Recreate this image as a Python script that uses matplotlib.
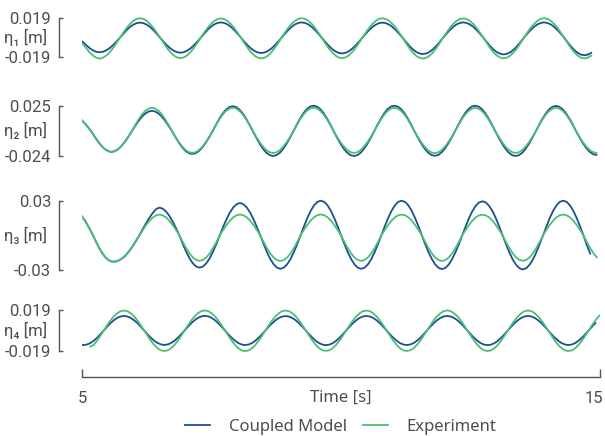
import numpy as np
import matplotlib.pyplot as plt
from matplotlib import font_manager
from matplotlib.transforms import ScaledTranslation

# sample grid of each panel: start time [s], 0.065 s step
dt = 0.065
t_start = [4.95, 4.92, 4.93, 4.90]

# panel 1
model_1 = [-0.0020, -0.0040, -0.0071, -0.0100, -0.0122, -0.0136, -0.0141, -0.0136, -0.0122, -0.0100, -0.0071, -0.0037,
           0.0000, 0.0038, 0.0074, 0.0105, 0.0128, 0.0143, 0.0148, 0.0143, 0.0128, 0.0105, 0.0074, 0.0038,
           0.0000, -0.0038, -0.0073, -0.0103, -0.0126, -0.0140, -0.0145, -0.0140, -0.0126, -0.0103, -0.0073, -0.0038,
           0.0000, 0.0039, 0.0075, 0.0106, 0.0130, 0.0145, 0.0150, 0.0145, 0.0130, 0.0106, 0.0075, 0.0039,
           0.0000, -0.0038, -0.0074, -0.0105, -0.0128, -0.0143, -0.0148, -0.0143, -0.0128, -0.0105, -0.0074, -0.0038,
           0.0000, 0.0039, 0.0075, 0.0106, 0.0130, 0.0145, 0.0150, 0.0145, 0.0130, 0.0106, 0.0075, 0.0039,
           0.0000, -0.0039, -0.0076, -0.0107, -0.0132, -0.0147, -0.0152, -0.0147, -0.0132, -0.0107, -0.0076, -0.0039,
           0.0000, 0.0038, 0.0074, 0.0105, 0.0128, 0.0143, 0.0148, 0.0143, 0.0128, 0.0105, 0.0074, 0.0038,
           0.0000, -0.0041, -0.0079, -0.0112, -0.0137, -0.0153, -0.0158, -0.0153, -0.0137, -0.0112, -0.0079, -0.0041,
           0.0000, 0.0039, 0.0075, 0.0106, 0.0130, 0.0145, 0.0150, 0.0145, 0.0130, 0.0106, 0.0075, 0.0039,
           0.0000, -0.0042, -0.0081, -0.0115, -0.0140, -0.0156, -0.0162, -0.0156, -0.0140, -0.0115, -0.0081, -0.0042,
           0.0000, 0.0039, 0.0075, 0.0106, 0.0130, 0.0145, 0.0150, 0.0145, 0.0130, 0.0106, 0.0075, 0.0039,
           0.0000, -0.0044, -0.0085, -0.0120, -0.0147, -0.0164, -0.0170, -0.0164, -0.0147]
exp_1 = [-0.0040, -0.0060, -0.0100, -0.0141, -0.0173, -0.0193, -0.0203, -0.0193, -0.0173, -0.0141, -0.0100, -0.0052,
         0.0000, 0.0049, 0.0095, 0.0134, 0.0165, 0.0184, 0.0190, 0.0184, 0.0165, 0.0134, 0.0095, 0.0049,
         0.0000, -0.0051, -0.0099, -0.0140, -0.0171, -0.0191, -0.0198, -0.0191, -0.0171, -0.0140, -0.0099, -0.0051,
         0.0000, 0.0049, 0.0094, 0.0133, 0.0163, 0.0182, 0.0188, 0.0182, 0.0163, 0.0133, 0.0094, 0.0049,
         0.0000, -0.0052, -0.0100, -0.0142, -0.0174, -0.0194, -0.0201, -0.0194, -0.0174, -0.0142, -0.0100, -0.0052,
         0.0000, 0.0049, 0.0096, 0.0135, 0.0165, 0.0185, 0.0191, 0.0185, 0.0165, 0.0135, 0.0096, 0.0049,
         0.0000, -0.0052, -0.0100, -0.0141, -0.0172, -0.0192, -0.0199, -0.0192, -0.0172, -0.0141, -0.0100, -0.0052,
         0.0000, 0.0049, 0.0095, 0.0134, 0.0165, 0.0184, 0.0190, 0.0184, 0.0165, 0.0134, 0.0095, 0.0049,
         0.0000, -0.0052, -0.0101, -0.0143, -0.0175, -0.0195, -0.0202, -0.0195, -0.0175, -0.0143, -0.0101, -0.0052,
         0.0000, 0.0049, 0.0095, 0.0134, 0.0164, 0.0183, 0.0189, 0.0183, 0.0164, 0.0134, 0.0095, 0.0049,
         0.0000, -0.0052, -0.0100, -0.0141, -0.0173, -0.0193, -0.0200, -0.0193, -0.0173, -0.0141, -0.0100, -0.0052,
         0.0000, 0.0049, 0.0096, 0.0135, 0.0165, 0.0185, 0.0191, 0.0185, 0.0165, 0.0135, 0.0096, 0.0049,
         0.0000, -0.0052, -0.0100, -0.0142, -0.0174, -0.0194, -0.0201, -0.0194, -0.0174]

# panel 2
model_2 = [0.0139, 0.0113, 0.0080, 0.0041, 0.0000,
           -0.0052, -0.0100, -0.0141, -0.0173, -0.0193, -0.0200, -0.0193, -0.0173, -0.0141, -0.0100, -0.0052, 0.0000,
           0.0052, 0.0100, 0.0141, 0.0173, 0.0193, 0.0200, 0.0193, 0.0173, 0.0141, 0.0100, 0.0052, 0.0000,
           -0.0057, -0.0110, -0.0156, -0.0191, -0.0213, -0.0220, -0.0213, -0.0191, -0.0156, -0.0110, -0.0057, 0.0000,
           0.0063, 0.0123, 0.0173, 0.0212, 0.0237, 0.0245, 0.0237, 0.0212, 0.0173, 0.0123, 0.0063, 0.0000,
           -0.0062, -0.0120, -0.0170, -0.0208, -0.0232, -0.0240, -0.0232, -0.0208, -0.0170, -0.0120, -0.0062, 0.0000,
           0.0065, 0.0125, 0.0177, 0.0217, 0.0242, 0.0250, 0.0242, 0.0217, 0.0177, 0.0125, 0.0065, 0.0000,
           -0.0062, -0.0120, -0.0170, -0.0208, -0.0232, -0.0240, -0.0232, -0.0208, -0.0170, -0.0120, -0.0062, 0.0000,
           0.0065, 0.0125, 0.0177, 0.0217, 0.0242, 0.0250, 0.0242, 0.0217, 0.0177, 0.0125, 0.0065, 0.0000,
           -0.0062, -0.0119, -0.0168, -0.0206, -0.0230, -0.0238, -0.0230, -0.0206, -0.0168, -0.0119, -0.0062, 0.0000,
           0.0065, 0.0125, 0.0177, 0.0217, 0.0242, 0.0250, 0.0242, 0.0217, 0.0177, 0.0125, 0.0065, 0.0000,
           -0.0062, -0.0120, -0.0170, -0.0208, -0.0232, -0.0240, -0.0232, -0.0208, -0.0170, -0.0120, -0.0062, 0.0000,
           0.0064, 0.0124, 0.0175, 0.0215, 0.0240, 0.0248, 0.0240, 0.0215, 0.0175, 0.0124, 0.0064, 0.0000,
           -0.0060, -0.0115, -0.0163, -0.0199, -0.0222, -0.0230]
exp_2 = [0.0139, 0.0113, 0.0080, 0.0041, 0.0000,
         -0.0052, -0.0100, -0.0141, -0.0173, -0.0193, -0.0200, -0.0193, -0.0173, -0.0141, -0.0100, -0.0052, 0.0000,
         0.0060, 0.0115, 0.0163, 0.0199, 0.0222, 0.0230, 0.0222, 0.0199, 0.0163, 0.0115, 0.0060, 0.0000,
         -0.0054, -0.0105, -0.0148, -0.0182, -0.0203, -0.0210, -0.0203, -0.0182, -0.0148, -0.0105, -0.0054, 0.0000,
         0.0060, 0.0115, 0.0163, 0.0199, 0.0222, 0.0230, 0.0222, 0.0199, 0.0163, 0.0115, 0.0060, 0.0000,
         -0.0055, -0.0106, -0.0149, -0.0183, -0.0204, -0.0211, -0.0204, -0.0183, -0.0149, -0.0106, -0.0055, 0.0000,
         0.0060, 0.0116, 0.0163, 0.0200, 0.0223, 0.0231, 0.0223, 0.0200, 0.0163, 0.0116, 0.0060, 0.0000,
         -0.0054, -0.0105, -0.0148, -0.0182, -0.0203, -0.0210, -0.0203, -0.0182, -0.0148, -0.0105, -0.0054, 0.0000,
         0.0060, 0.0115, 0.0163, 0.0199, 0.0222, 0.0230, 0.0222, 0.0199, 0.0163, 0.0115, 0.0060, 0.0000,
         -0.0055, -0.0106, -0.0150, -0.0184, -0.0205, -0.0212, -0.0205, -0.0184, -0.0150, -0.0106, -0.0055, 0.0000,
         0.0059, 0.0115, 0.0162, 0.0198, 0.0221, 0.0229, 0.0221, 0.0198, 0.0162, 0.0115, 0.0059, 0.0000,
         -0.0054, -0.0105, -0.0148, -0.0182, -0.0203, -0.0210, -0.0203, -0.0182, -0.0148, -0.0105, -0.0054, 0.0000,
         0.0060, 0.0115, 0.0163, 0.0199, 0.0222, 0.0230, 0.0222, 0.0199, 0.0163, 0.0115, 0.0060, 0.0000,
         -0.0054, -0.0105, -0.0148, -0.0182, -0.0203, -0.0210]

# panel 3
model_3 = [0.0200, 0.0165, 0.0125, 0.0075, 0.0020, -0.0040, -0.0100, -0.0150, -0.0190, -0.0215, -0.0228, -0.0227,
           -0.0218, -0.0200, -0.0175, -0.0140, -0.0100, -0.0053, -0.0005, 0.0048, 0.0100, 0.0148, 0.0190, 0.0225,
           0.0240, 0.0232, 0.0208, 0.0170, 0.0120, 0.0062, 0.0000,
           -0.0073, -0.0140, -0.0198, -0.0242, -0.0270, -0.0280, -0.0270, -0.0242, -0.0198, -0.0140, -0.0073, 0.0000,
           0.0073, 0.0140, 0.0198, 0.0242, 0.0270, 0.0280, 0.0270, 0.0242, 0.0198, 0.0140, 0.0073, 0.0000,
           -0.0075, -0.0145, -0.0205, -0.0251, -0.0280, -0.0290, -0.0280, -0.0251, -0.0205, -0.0145, -0.0075, 0.0000,
           0.0078, 0.0150, 0.0212, 0.0260, 0.0290, 0.0300, 0.0290, 0.0260, 0.0212, 0.0150, 0.0078, 0.0000,
           -0.0075, -0.0145, -0.0205, -0.0251, -0.0280, -0.0290, -0.0280, -0.0251, -0.0205, -0.0145, -0.0075, 0.0000,
           0.0078, 0.0150, 0.0212, 0.0260, 0.0290, 0.0300, 0.0290, 0.0260, 0.0212, 0.0150, 0.0078, 0.0000,
           -0.0076, -0.0146, -0.0206, -0.0253, -0.0282, -0.0292, -0.0282, -0.0253, -0.0206, -0.0146, -0.0076, 0.0000,
           0.0076, 0.0148, 0.0209, 0.0255, 0.0285, 0.0295, 0.0285, 0.0255, 0.0209, 0.0148, 0.0076, 0.0000,
           -0.0076, -0.0148, -0.0209, -0.0255, -0.0285, -0.0295, -0.0285, -0.0255, -0.0209, -0.0148, -0.0076, 0.0000,
           0.0078, 0.0150, 0.0212, 0.0260, 0.0290, 0.0300, 0.0290, 0.0260, 0.0212, 0.0150, 0.0078, 0.0000,
           -0.0082, -0.0158]
exp_3 = [0.0200, 0.0165, 0.0125, 0.0075, 0.0020, -0.0040, -0.0100, -0.0148, -0.0188, -0.0215, -0.0228, -0.0226,
         -0.0216, -0.0198, -0.0172, -0.0138, -0.0100, -0.0055, -0.0008, 0.0040, 0.0085, 0.0122, 0.0152, 0.0172,
         0.0180, 0.0174, 0.0156, 0.0127, 0.0090, 0.0047, 0.0000,
         -0.0057, -0.0110, -0.0156, -0.0191, -0.0213, -0.0220, -0.0213, -0.0191, -0.0156, -0.0110, -0.0057, 0.0000,
         0.0047, 0.0090, 0.0127, 0.0156, 0.0174, 0.0180, 0.0174, 0.0156, 0.0127, 0.0090, 0.0047, 0.0000,
         -0.0057, -0.0111, -0.0157, -0.0192, -0.0214, -0.0222, -0.0214, -0.0192, -0.0157, -0.0111, -0.0057, 0.0000,
         0.0047, 0.0090, 0.0128, 0.0157, 0.0175, 0.0181, 0.0175, 0.0157, 0.0128, 0.0090, 0.0047, 0.0000,
         -0.0057, -0.0110, -0.0156, -0.0191, -0.0213, -0.0221, -0.0213, -0.0191, -0.0156, -0.0110, -0.0057, 0.0000,
         0.0047, 0.0090, 0.0127, 0.0156, 0.0174, 0.0180, 0.0174, 0.0156, 0.0127, 0.0090, 0.0047, 0.0000,
         -0.0057, -0.0111, -0.0157, -0.0192, -0.0214, -0.0222, -0.0214, -0.0192, -0.0157, -0.0111, -0.0057, 0.0000,
         0.0046, 0.0089, 0.0126, 0.0155, 0.0173, 0.0179, 0.0173, 0.0155, 0.0126, 0.0089, 0.0046, 0.0000,
         -0.0057, -0.0110, -0.0156, -0.0191, -0.0213, -0.0220, -0.0213, -0.0191, -0.0156, -0.0110, -0.0057, 0.0000,
         0.0047, 0.0090, 0.0127, 0.0156, 0.0174, 0.0180, 0.0174, 0.0156, 0.0127, 0.0090, 0.0047, 0.0000,
         -0.0057, -0.0110, -0.0156, -0.0191]

# panel 4
model_4 = [-0.0117, -0.0130, -0.0135, -0.0130, -0.0117, -0.0095, -0.0068, -0.0035, 0.0000,
           0.0035, 0.0068, 0.0095, 0.0117, 0.0130, 0.0135, 0.0130, 0.0117, 0.0095, 0.0068, 0.0035, 0.0000,
           -0.0035, -0.0067, -0.0095, -0.0116, -0.0129, -0.0134, -0.0129, -0.0116, -0.0095, -0.0067, -0.0035, 0.0000,
           0.0035, 0.0068, 0.0096, 0.0118, 0.0131, 0.0136, 0.0131, 0.0118, 0.0096, 0.0068, 0.0035, 0.0000,
           -0.0035, -0.0068, -0.0095, -0.0117, -0.0130, -0.0135, -0.0130, -0.0117, -0.0095, -0.0068, -0.0035, 0.0000,
           0.0035, 0.0067, 0.0095, 0.0116, 0.0129, 0.0134, 0.0129, 0.0116, 0.0095, 0.0067, 0.0035, 0.0000,
           -0.0035, -0.0068, -0.0096, -0.0118, -0.0131, -0.0136, -0.0131, -0.0118, -0.0096, -0.0068, -0.0035, 0.0000,
           0.0035, 0.0068, 0.0095, 0.0117, 0.0130, 0.0135, 0.0130, 0.0117, 0.0095, 0.0068, 0.0035, 0.0000,
           -0.0035, -0.0068, -0.0095, -0.0117, -0.0130, -0.0135, -0.0130, -0.0117, -0.0095, -0.0068, -0.0035, 0.0000,
           0.0035, 0.0068, 0.0095, 0.0117, 0.0130, 0.0135, 0.0130, 0.0117, 0.0095, 0.0068, 0.0035, 0.0000,
           -0.0035, -0.0068, -0.0096, -0.0118, -0.0131, -0.0136, -0.0131, -0.0118, -0.0096, -0.0068, -0.0035, 0.0000,
           0.0035, 0.0068, 0.0095, 0.0117, 0.0130, 0.0135, 0.0130, 0.0117, 0.0095, 0.0068, 0.0035, 0.0000,
           -0.0035, -0.0068, -0.0095, -0.0117, -0.0130, -0.0135, -0.0130, -0.0117, -0.0095, -0.0068, -0.0035, 0.0000,
           0.0035, 0.0068]
exp_4 = [np.nan, np.nan, np.nan, np.nan, -0.0150, -0.0134, -0.0095, -0.0049, 0.0000,
         0.0048, 0.0093, 0.0131, 0.0160, 0.0179, 0.0185, 0.0179, 0.0160, 0.0131, 0.0093, 0.0048, 0.0000,
         -0.0049, -0.0095, -0.0134, -0.0165, -0.0184, -0.0190, -0.0184, -0.0165, -0.0134, -0.0095, -0.0049, 0.0000,
         0.0048, 0.0094, 0.0132, 0.0161, 0.0180, 0.0186, 0.0180, 0.0161, 0.0132, 0.0094, 0.0048, 0.0000,
         -0.0049, -0.0095, -0.0135, -0.0165, -0.0185, -0.0191, -0.0185, -0.0165, -0.0135, -0.0095, -0.0049, 0.0000,
         0.0048, 0.0093, 0.0131, 0.0160, 0.0179, 0.0185, 0.0179, 0.0160, 0.0131, 0.0093, 0.0048, 0.0000,
         -0.0049, -0.0095, -0.0134, -0.0164, -0.0183, -0.0189, -0.0183, -0.0164, -0.0134, -0.0095, -0.0049, 0.0000,
         0.0048, 0.0093, 0.0131, 0.0160, 0.0179, 0.0185, 0.0179, 0.0160, 0.0131, 0.0093, 0.0048, 0.0000,
         -0.0049, -0.0095, -0.0134, -0.0165, -0.0184, -0.0190, -0.0184, -0.0165, -0.0134, -0.0095, -0.0049, 0.0000,
         0.0048, 0.0094, 0.0132, 0.0161, 0.0180, 0.0186, 0.0180, 0.0161, 0.0132, 0.0094, 0.0048, 0.0000,
         -0.0049, -0.0095, -0.0134, -0.0165, -0.0184, -0.0190, -0.0184, -0.0165, -0.0134, -0.0095, -0.0049, 0.0000,
         0.0048, 0.0093, 0.0131, 0.0160, 0.0179, 0.0185, 0.0179, 0.0160, 0.0131, 0.0093, 0.0048, 0.0000,
         -0.0049, -0.0095, -0.0134, -0.0165, -0.0184, -0.0190, -0.0184, -0.0165, -0.0134, -0.0095, -0.0049, 0.0000,
         0.0048, 0.0093, 0.0131, 0.0160]

models = [model_1, model_2, model_3, model_4]
exps = [exp_1, exp_2, exp_3, exp_4]
y_ticks = [(-0.019, 0.019), (-0.024, 0.025), (-0.03, 0.03), (-0.019, 0.019)]
y_ticklabels = [('-0.019', '0.019'), ('-0.024', '0.025'), ('-0.03', '0.03'), ('-0.019', '0.019')]
y_labels = ['η₁ [m]', 'η₂ [m]', 'η₃ [m]', 'η₄ [m]']


def pick(names):
    for n in names:
        try:
            font_manager.findfont(font_manager.FontProperties(family=n), fallback_to_default=False)
            return n
        except ValueError:
            pass
    return 'DejaVu Sans'


num_font = pick(['Liberation Sans Narrow', 'Roboto', 'DejaVu Sans'])
txt_font = pick(['Noto Sans', 'DejaVu Sans'])
plt.rcParams['font.family'] = [txt_font, 'DejaVu Sans']
plt.rcParams['font.size'] = 12
grey = '#4d4d4d'
blue = '#1c4f8f'
green = '#4bbf73'

W, H = 605, 436
fig = plt.figure(figsize=(W / 100, H / 100), dpi=100)

# pixel rows of the (bottom, top) ticks of each panel
tick_px = [(57.3, 18.3), (156.0, 105.7), (270.0, 200.7), (351.0, 310.0)]
xl, xr = 82, 600
m = 0.1
axes = []
for i in range(4):
    lo, hi = y_ticks[i]
    pb, pt = tick_px[i]
    span = pb - pt
    top, bot = pt - m * span, pb + m * span
    ax = fig.add_axes([xl / W, 1 - bot / H, (xr - xl) / W, (bot - top) / H])
    n = max(len(models[i]), len(exps[i]))
    t = np.round(t_start[i] + dt * np.arange(n), 3)
    ax.plot(t[:len(models[i])], models[i], color=blue, lw=1.3, label='Coupled Model')
    ax.plot(t[:len(exps[i])], exps[i], color=green, lw=1.3, label='Experiment')
    ax.set_xlim(5, 15)
    ax.set_ylim(lo - m * (hi - lo), hi + m * (hi - lo))
    for s in ['top', 'right', 'bottom']:
        ax.spines[s].set_visible(False)
    ax.spines['left'].set_position(('outward', 22.7 * 0.72))
    ax.spines['left'].set_bounds(lo, hi)
    ax.spines['left'].set_color('#555555')
    ax.spines['left'].set_linewidth(1.0)
    ax.set_yticks([lo, hi])
    ax.set_yticklabels(y_ticklabels[i], family=[num_font, 'DejaVu Sans'])
    ax.tick_params(axis='y', direction='in', length=3, width=1.0, color='#555555',
                   labelcolor=grey, pad=5.8, labelsize=12)
    ax.set_xticks([])
    ax.set_ylabel(y_labels[i], rotation=0, ha='right', va='center', color=grey, fontsize=12,
                  family=[num_font, 'DejaVu Sans'])
    ax.yaxis.set_label_coords((47.3 - xl) / (xr - xl), 0.5)
    ax.patch.set_visible(False)
    axes.append((ax, bot, top))

# time axis under the last panel
ax, bot, top = axes[-1]
ax.spines['bottom'].set_visible(True)
ax.spines['bottom'].set_position(('outward', (377 - bot) * 0.72))
ax.spines['bottom'].set_bounds(5, 15)
ax.spines['bottom'].set_color('#555555')
ax.spines['bottom'].set_linewidth(1.0)
ax.set_xticks([5, 15])
ax.set_xticklabels(['5', '15'], family=[num_font, 'DejaVu Sans'])
ax.tick_params(axis='x', direction='in', length=5.8, width=1.0, color='#555555',
               labelcolor=grey, pad=10, labelsize=12)
lbl15 = ax.get_xticklabels()[1]
lbl15.set_transform(lbl15.get_transform() + ScaledTranslation(-6 / 100, 0, fig.dpi_scale_trans))
ax.set_xlabel('Time [s]', color=grey, fontsize=12)
ax.xaxis.set_label_coords(0.5, (bot - 390) / (bot - top))

handles, labels = axes[0][0].get_legend_handles_labels()
leg = fig.legend(handles, labels, loc='center', bbox_to_anchor=(341 / W, 1 - 427 / H),
                 ncol=2, frameon=False, fontsize=12, handlelength=1.5,
                 handletextpad=1.1, columnspacing=1.0)
for txt in leg.get_texts():
    txt.set_color(grey)

fig.savefig('out.png', dpi=100)
